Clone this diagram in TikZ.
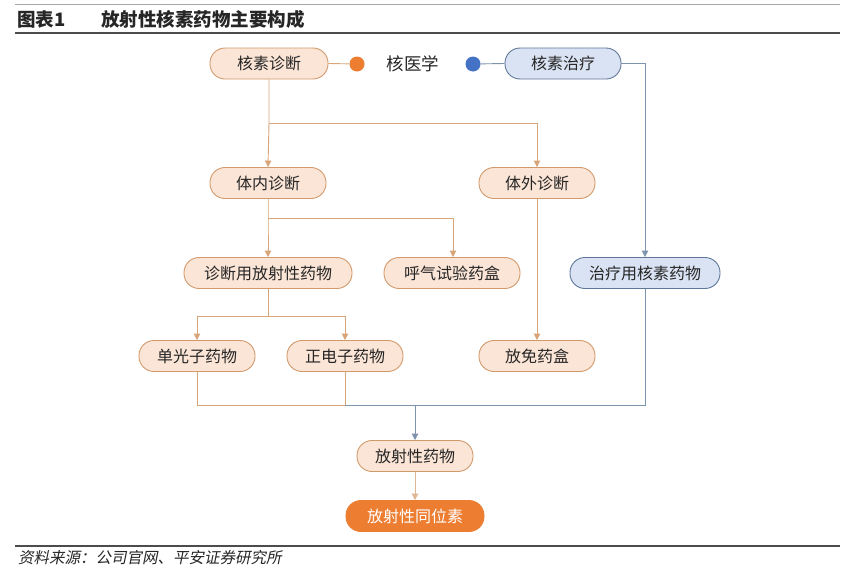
\documentclass[tikz,border=0pt]{standalone}
\usepackage{fontspec}
\setmainfont{Noto Sans CJK SC}
\newfontfamily\cjkit[FakeSlant=0.2]{Noto Sans CJK SC}
\usetikzlibrary{arrows.meta}
\definecolor{ofill}{HTML}{FBE5D6}
\definecolor{odraw}{HTML}{D29A6C}
\definecolor{oline}{HTML}{D8A578}
\definecolor{bfill}{HTML}{DAE3F3}
\definecolor{bdraw}{HTML}{5F7899}
\definecolor{bline}{HTML}{7E93AE}
\definecolor{odot}{HTML}{ED7D31}
\definecolor{bdot}{HTML}{4472C4}
\definecolor{ttext}{HTML}{262626}
\tikzset{
  pill/.style={draw=odraw, fill=ofill, rounded corners=15pt, minimum height=31pt, line width=0.9pt, text=ttext, font=\fontsize{16}{17}\selectfont, inner sep=0pt},
  bpill/.style={pill, draw=bdraw, fill=bfill},
  opill/.style={pill, draw=odot, fill=odot, text=white},
  oconn/.style={draw=oline, line width=0.9pt},
  bconn/.style={draw=bline, line width=0.9pt},
  tip/.style={-{Triangle[length=6.5pt,width=6.5pt]}},
}
\begin{document}
\begin{tikzpicture}[x=1pt,y=-1pt]
\useasboundingbox (0,0) rectangle (858,568);
\fill[white] (0,0) rectangle (858,568);
% header
\draw[gray!70, line width=0.8pt] (15,4) -- (840,4);
\node[anchor=west, font=\fontsize{18.5}{19}\selectfont\bfseries, text=black!85, inner sep=0] (t1) at (17,19) {图表1};
\node[anchor=west, font=\fontsize{18.5}{19}\selectfont\bfseries, text=black!85, inner sep=0] (t2) at (101,19) {放射性核素药物主要构成};
\draw[black!70, line width=1.5pt] (15,33) -- (840,33);
% footer
\draw[black!70, line width=1.2pt] (15,546) -- (840,546);
\node[anchor=west, font=\fontsize{15.5}{16}\selectfont\cjkit, text=black!85, inner sep=0] (src) at (18,558) {资料来源：公司官网、平安证券研究所};
% nodes
\node[pill, minimum width=118pt] (hszd) at (269,63.5) {核素诊断};
\node[bpill, minimum width=116pt] (hszl) at (563,63.5) {核素治疗};
\node[font=\fontsize{17.5}{18}\selectfont, text=ttext] (hyx) at (413,64) {核医学};
\node[circle, fill=odot, minimum size=15pt, inner sep=0] (dot1) at (357,64) {};
\node[circle, fill=bdot, minimum size=15pt, inner sep=0] (dot2) at (473,64) {};
\node[pill, minimum width=116pt] (tnzd) at (268,183) {体内诊断};
\node[pill, minimum width=116pt] (twzd) at (537,183) {体外诊断};
\node[pill, minimum width=168pt] (zdyf) at (268,273) {诊断用放射性药物};
\node[pill, minimum width=136pt] (hqsy) at (452,273) {呼气试验药盒};
\node[bpill, minimum width=150pt] (zlyh) at (645,273) {治疗用核素药物};
\node[pill, minimum width=116pt] (dgz) at (197,356) {单光子药物};
\node[pill, minimum width=116pt] (zdz) at (345,356) {正电子药物};
\node[pill, minimum width=116pt] (fmyh) at (537,356) {放免药盒};
\node[pill, minimum width=116pt] (fsxyw) at (415,456) {放射性药物};
\node[opill, minimum width=138pt] (fsxtw) at (415,516) {放射性同位素};
% connectors top
\draw[oconn] (hszd.east) -- (dot1);
\draw[bconn] (dot2) -- (hszl.west);
\coordinate (c1) at (269,123);
\coordinate (c1r) at (537,123);
\draw[oconn, tip] (hszd.south) -- (c1) -- (tnzd.north);
\draw[oconn, tip] (c1) -- (c1r) -- (twzd.north);
\coordinate (c2) at (268,218);
\coordinate (c2r) at (453,218);
\draw[oconn, tip] (tnzd.south) -- (c2) -- (zdyf.north);
\draw[oconn, tip] (c2) -- (c2r) -- (hqsy.north -| c2r);
\draw[oconn, tip] (twzd.south) -- (fmyh.north);
\coordinate (c3) at (645,63.5);
\draw[bconn, tip] (hszl.east) -- (c3) -- (zlyh.north);
\coordinate (c4) at (268,316);
\coordinate (c4l) at (197,316);
\coordinate (c4r) at (345,316);
\draw[oconn] (zdyf.south) -- (c4);
\draw[oconn, tip] (c4l) -- (c4r) -- (zdz.north);
\draw[oconn, tip] (c4l) -- (dgz.north);
% bottom merge
\coordinate (m1) at (197,405);
\coordinate (m2) at (345,405);
\coordinate (m3) at (415,405);
\coordinate (m4) at (645,405);
\draw[oconn] (dgz.south) -- (m1) -- (m2);
\draw[oconn] (zdz.south) -- (m2);
\draw[bconn] (m2) -- (m4) -- (zlyh.south);
\draw[bconn, tip] (m3) -- (fsxyw.north);
\draw[oconn, draw=oline!80, tip] (fsxyw.south) -- (fsxtw.north);
\end{tikzpicture}
\end{document}
